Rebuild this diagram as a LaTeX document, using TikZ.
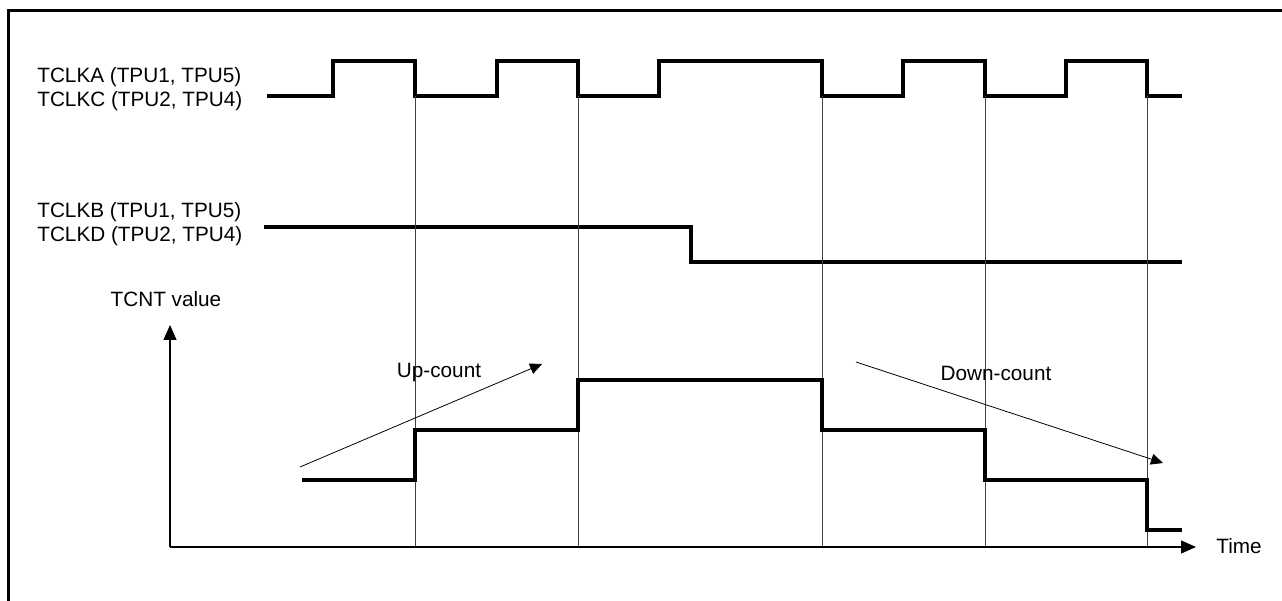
\documentclass[tikz,border=0pt]{standalone}
\usepackage{fontspec}
\setmainfont{Liberation Sans}
\usetikzlibrary{arrows.meta,positioning}

\begin{document}
\begin{tikzpicture}[x=0.02cm,y=-0.02cm,
    every node/.style={font=\fontsize{11.8}{13.8}\selectfont, inner sep=0pt},
    wave/.style={line width=1.9pt, line join=miter},
    gridline/.style={line width=0.5pt, black!75},
    axis/.style={line width=0.6pt, -{Triangle[length=0.3cm,width=0.26cm]}},
    trend/.style={line width=0.45pt, -{Triangle[length=0.24cm,width=0.22cm]}}]
\useasboundingbox (0,0) rectangle (1282,601);
% frame
\draw[line width=1.9pt] (8.5,601) -- (8.5,10.5) -- (1282,10.5);

% signal names
\node[anchor=west, align=left] (clka) at (37,89) {TCLKA (TPU1, TPU5)\\TCLKC (TPU2, TPU4)};
\node[anchor=west, align=left] (clkb) at (37,224) {TCLKB (TPU1, TPU5)\\TCLKD (TPU2, TPU4)};

% phase A / C
\draw[wave] (267,96) -| (333,61) -| (415,96) -| (497,61) -| (578,96) -| (659,61)
    -| (822,96) -| (903,61) -| (985,96) -| (1066,61) -| (1147,96) -- (1182,96);
% phase B / D
\draw[wave] (264,227) -| (691,262) -- (1182,262);

% counting edges
\foreach \ex in {415,578,822,985,1147}{
    \draw[gridline] (\ex,96) -- (\ex,547);
}

% axes
\coordinate (origin) at (170,547);
\coordinate (ytip) at (170,325);
\coordinate (xtip) at (1196,547);
\draw[axis] (origin) -- (ytip);
\draw[axis] (origin) -- (xtip);
\node (tcnt) at (166,299) {TCNT value};
\node[anchor=west] (time) at (1216,546) {Time};

% TCNT value
\draw[wave] (302,480) -| (415,430) -| (578,380) -| (822,430) -| (985,480)
    -| (1147,530) -- (1182,530);

% count direction
\coordinate (up0) at (300,467);
\coordinate (up1) at (542,364);
\coordinate (dn0) at (856,362);
\coordinate (dn1) at (1163,463);
\draw[trend] (up0) -- (up1);
\draw[trend] (dn0) -- (dn1);
\node (upcnt) at (439,373) {Up-count};
\node (dncnt) at (996,373) {Down-count};
\end{tikzpicture}
\end{document}
